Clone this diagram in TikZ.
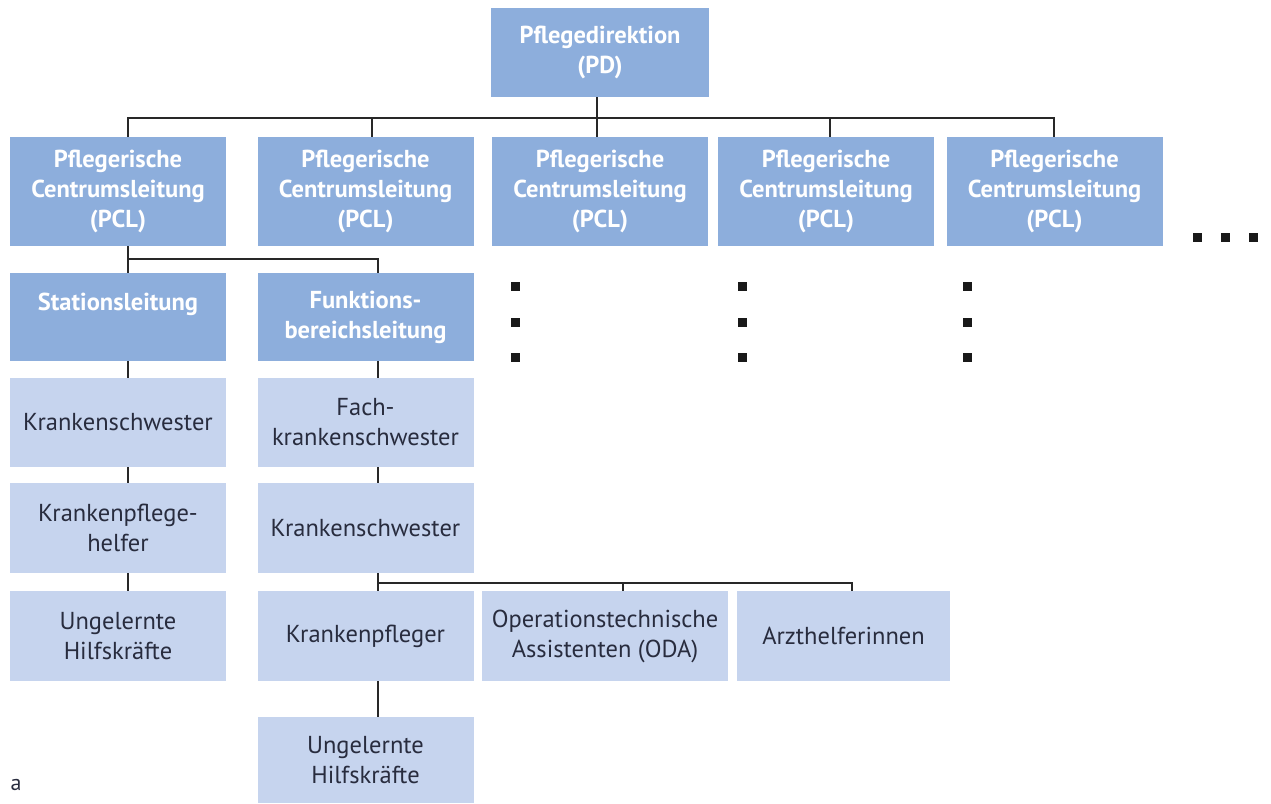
\documentclass[tikz,border=0pt]{standalone}
\usepackage{fontspec}
\setmainfont{PT Sans}
\definecolor{headblue}{RGB}{141,174,220}
\definecolor{staffblue}{RGB}{198,212,238}
\definecolor{stafftext}{RGB}{40,44,62}
\definecolor{linegray}{RGB}{40,40,40}
\tikzset{
  box/.style={rectangle, inner sep=0pt, align=center, minimum width=216pt},
  headbox/.style={box, fill=headblue, text=white, font=\fontsize{24.5}{30}\selectfont\bfseries},
  staffbox/.style={box, fill=staffblue, text=stafftext, font=\fontsize{24.5}{30}\selectfont},
  conn/.style={draw=linegray, line width=1.5pt},
  dotmark/.style={fill=black!90}
}
\begin{document}
\begin{tikzpicture}[x=1pt,y=-1pt]
  \fill[white] (0,0) rectangle (1271,803);
  \useasboundingbox (0,0) rectangle (1271,803);

  % directorate
  \node[headbox, minimum height=89pt, minimum width=218pt] (pd) at (600,52.5) {Pflegedirektion\\(PD)};

  % centre managements
  \foreach \n/\cx in {1/118, 2/365.5, 3/600, 4/826, 5/1054.5}
    \node[headbox, minimum height=109pt] (pcl\n) at (\cx,191.5) {Pflegerische\\Centrumsleitung\\(PCL)};

  % ward and functional area
  \node[headbox, minimum height=88pt] (sl) at (118,317) {Stationsleitung\\\mbox{}};
  \node[headbox, minimum height=88pt] (fbl) at (365.5,317) {Funktions-\\bereichsleitung};

  % ward staff
  \node[staffbox, minimum height=89pt] (ks1) at (118,422.5) {Krankenschwester};
  \node[staffbox, minimum height=90pt] (kph) at (118,528) {Krankenpflege-\\helfer};
  \node[staffbox, minimum height=90pt] (uh1) at (118,636) {Ungelernte\\Hilfskräfte};

  % functional area staff
  \node[staffbox, minimum height=89pt] (fks) at (365.5,422.5) {Fach-\\krankenschwester};
  \node[staffbox, minimum height=90pt] (ks2) at (365.5,528) {Krankenschwester};
  \node[staffbox, minimum height=90pt] (kp) at (365.5,636) {Krankenpfleger};
  \node[staffbox, minimum height=90pt, minimum width=246pt] (oda) at (605,636) {Operationstechnische\\Assistenten (ODA)};
  \node[staffbox, minimum height=90pt, minimum width=213pt] (ah) at (843.5,636) {Arzthelferinnen};
  \node[staffbox, minimum height=86pt] (uh2) at (365.5,760) {Ungelernte\\Hilfskräfte};

  % bus lines
  \coordinate (bus) at (0,118);
  \coordinate (subbus) at (0,259);
  \coordinate (staffbus) at (0,583);

  \draw[conn] ([xshift=-3pt]pd.south) -- ([xshift=-3pt]pd.south |- bus);
  \draw[conn] ([xshift=10pt]pcl1.north) -- ([xshift=10pt]pcl1.north |- bus)
              -- ([xshift=-0.5pt]pcl5.north |- bus) -- ([xshift=-0.5pt]pcl5.north);
  \draw[conn] ([xshift=6.5pt]pcl2.north) -- ([xshift=6.5pt]pcl2.north |- bus);
  \draw[conn] ([xshift=-3pt]pcl3.north) -- ([xshift=-3pt]pcl3.north |- bus);
  \draw[conn] ([xshift=4pt]pcl4.north) -- ([xshift=4pt]pcl4.north |- bus);

  \draw[conn] ([xshift=10pt]pcl1.south) -- ([xshift=10pt]sl.north);
  \draw[conn] ([xshift=10pt]pcl1.south |- subbus) -- ([xshift=12.5pt]fbl.north |- subbus)
              -- ([xshift=12.5pt]fbl.north);

  % ward column
  \draw[conn] ([xshift=10pt]sl.south) -- ([xshift=10pt]ks1.north);
  \draw[conn] ([xshift=10pt]ks1.south) -- ([xshift=10pt]kph.north);
  \draw[conn] ([xshift=10pt]kph.south) -- ([xshift=10pt]uh1.north);

  % functional column
  \draw[conn] ([xshift=12.5pt]fbl.south) -- ([xshift=12.5pt]fks.north);
  \draw[conn] ([xshift=12.5pt]fks.south) -- ([xshift=12.5pt]ks2.north);
  \draw[conn] ([xshift=12.5pt]ks2.south) -- ([xshift=12.5pt]kp.north);
  \draw[conn] ([xshift=12.5pt]ks2.south |- staffbus) -- ([xshift=8.5pt]ah.north |- staffbus)
              -- ([xshift=8.5pt]ah.north);
  \draw[conn] ([xshift=18pt]oda.north) -- ([xshift=18pt]oda.north |- staffbus);
  \draw[conn] ([xshift=12.5pt]kp.south) -- ([xshift=12.5pt]uh2.north);

  % continuation marks below further centres
  \foreach \cx in {515, 742, 967}
    \foreach \cy in {286, 322, 357}
      \fill[dotmark] (\cx-4.5,\cy-4.5) rectangle (\cx+4.5,\cy+4.5);
  % continuation marks beside the row of centres
  \foreach \cx in {1197, 1225, 1253}
    \fill[dotmark] (\cx-4.5,237-4.5) rectangle (\cx+4.5,237+4.5);

  \node[text=stafftext, font=\fontsize{22}{24}\selectfont, anchor=base] (lbl) at (16,790) {a};
\end{tikzpicture}
\end{document}
